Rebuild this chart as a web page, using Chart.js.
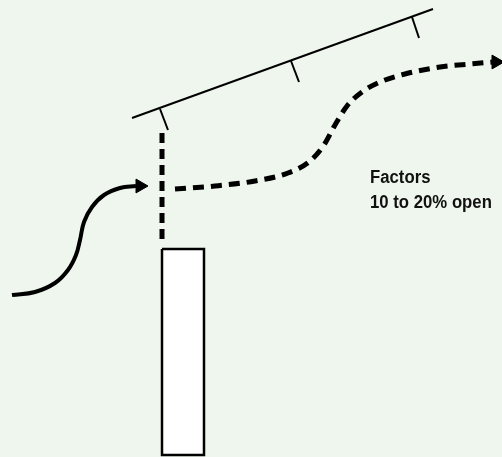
<!DOCTYPE html>
<html lang="en">
<head>
<meta charset="UTF-8">
<title>Roof vent diagram</title>
<script src="https://cdn.jsdelivr.net/npm/chart.js"></script>
<style>
  html, body { margin: 0; padding: 0; background: #eff6ed; }
  canvas { display: block; }
</style>
</head>
<body>
<canvas id="diagram" width="502" height="457"></canvas>
<script>
// diagram points, in picture units (x right, y down)
const roofLine = [{x: 132, y: 118}, {x: 433, y: 9}];
const roofTicks = [
  [{x: 160, y: 109}, {x: 168, y: 130}],
  [{x: 291, y: 61}, {x: 299, y: 82}],
  [{x: 412, y: 17}, {x: 419, y: 38}]
];
const wallDashes = [{x: 162, y: 133}, {x: 162, y: 244}];
const airflowPath = [
  {x: 175, y: 189}, {x: 215, y: 186}, {x: 255, y: 181}, {x: 288, y: 173},
  {x: 310, y: 161}, {x: 324, y: 145}, {x: 335, y: 125}, {x: 347, y: 106},
  {x: 362, y: 92}, {x: 380, y: 82}, {x: 405, y: 74}, {x: 440, y: 67},
  {x: 470, y: 64}, {x: 494, y: 62}
];
const airflowTip = [{x: 496, y: 62}];
const inletCurve = [
  {x: 12, y: 295}, {x: 35, y: 292}, {x: 55, y: 283}, {x: 68, y: 270},
  {x: 76, y: 255}, {x: 80, y: 240}, {x: 84, y: 222}, {x: 92, y: 207},
  {x: 104, y: 195}, {x: 120, y: 188}, {x: 136, y: 186}
];
const inletTip = [{x: 140, y: 186}];
const wallBox = [
  {x: 162, y: 249}, {x: 204, y: 249}, {x: 204, y: 455}, {x: 162, y: 455}, {x: 162, y: 249}
];
const noteLines = ['Factors', '10 to 20% open'];
const notePos = {x: 370, y: 183};

const ink = '#000000';

function lineSet(data, width, dash) {
  return {
    data: data,
    showLine: true,
    borderColor: ink,
    borderWidth: width,
    borderDash: dash || [],
    pointRadius: 0,
    tension: 0,
    fill: false
  };
}

const datasets = [];
const box = lineSet(wallBox, 2.5);
box.fill = 'shape';
box.backgroundColor = '#ffffff';
datasets.push(box);
datasets.push(lineSet(roofLine, 2));
roofTicks.forEach(t => datasets.push(lineSet(t, 2)));
datasets.push(lineSet(wallDashes, 5, [10, 6]));
const flow = lineSet(airflowPath, 5, [11, 7]);
flow.cubicInterpolationMode = 'monotone';
flow.tension = 0.4;
datasets.push(flow);
const inlet = lineSet(inletCurve, 4);
inlet.tension = 0.4;
datasets.push(inlet);
[airflowTip, inletTip].forEach(tip => datasets.push({
  data: tip,
  showLine: false,
  pointStyle: 'triangle',
  rotation: 90,
  pointRadius: 8,
  backgroundColor: ink,
  borderColor: ink,
  borderWidth: 1
}));

// draws the note text at a point on the scales
const notePlugin = {
  id: 'note',
  afterDatasetsDraw(chart) {
    const ctx = chart.ctx;
    const px = chart.scales.x.getPixelForValue(notePos.x);
    const py = chart.scales.y.getPixelForValue(notePos.y);
    ctx.save();
    ctx.fillStyle = '#111111';
    ctx.font = 'bold 18px "Liberation Sans", Arial, sans-serif';
    ctx.textBaseline = 'alphabetic';
    ctx.translate(px, py);
    ctx.scale(0.93, 1);  // narrower, like the condensed face of the original
    noteLines.forEach((s, i) => ctx.fillText(s, 0, i * 25));
    ctx.restore();
  }
};

new Chart(document.getElementById('diagram'), {
  type: 'scatter',
  data: { datasets: datasets },
  options: {
    responsive: false,
    animation: false,
    clip: false,
    layout: { padding: 0, autoPadding: false },
    plugins: { legend: { display: false }, tooltip: { enabled: false } },
    scales: {
      x: { type: 'linear', min: 0, max: 502, display: false },
      y: { type: 'linear', min: 0, max: 457, reverse: true, display: false }
    }
  },
  plugins: [notePlugin]
});
</script>
</body>
</html>
